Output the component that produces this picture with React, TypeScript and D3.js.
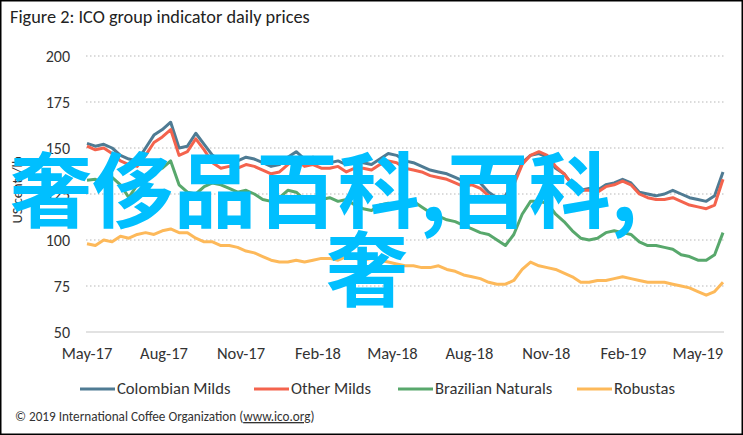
import React from "react";
import * as d3 from "d3";

const W = 743;
const H = 435;

const START = new Date(2017, 4, 1);
const END = new Date(2019, 4, 31);
const STEP_DAYS = 10;

const colombianMilds = [152.5, 151, 152, 150, 146, 144, 143, 150, 157, 160, 164, 150, 151, 158, 152, 146, 143, 144, 143, 145, 144, 142, 140, 141, 145, 148, 144, 145, 143, 142, 143, 141, 143, 142, 141, 144, 147, 146, 143, 142, 140, 138, 137, 136, 134, 132, 133, 131, 126, 123, 124, 132, 142, 146, 147, 145, 139, 136, 130, 127, 128, 127, 130, 131, 133, 131, 126, 125, 124, 125, 127, 125, 123, 122, 121, 124, 137];
const otherMilds = [151, 149, 150, 147, 143, 141, 140, 146, 153, 156, 160, 146, 148, 155, 149, 142, 139, 140, 139, 141, 140, 138, 136, 137, 141, 144, 140, 141, 139, 139, 140, 137, 139, 139, 138, 141, 143, 142, 139, 138, 137, 135, 134, 133, 131, 129, 130, 128, 124, 121, 122, 130, 141, 146, 148, 146, 140, 136, 130, 127, 127, 126, 129, 130, 132, 130, 125, 123, 122, 122, 123, 121, 119, 118, 117, 119, 133];
const brazilianNaturals = [132.5, 133, 131, 134, 130, 123, 130, 134, 137, 139, 143, 130, 126, 125, 129, 131, 130, 128, 126, 127, 125, 122, 121, 123, 127, 126, 122, 123, 122, 123, 121, 122, 119, 117, 116, 119, 120, 119, 120, 121, 118, 115, 113, 111, 110, 108, 106, 104, 103, 100, 97, 103, 114, 121, 121, 120, 114, 110, 105, 101, 100, 101, 104, 105, 104, 103, 99, 97, 97, 96, 95, 92, 91, 89, 89, 92, 104];
const robustas = [98, 97, 100, 99, 102, 101, 103, 104, 103, 105, 106, 104, 104, 101, 99, 99, 97, 97, 96, 94, 93, 91, 89, 88, 88, 89, 88, 89, 90, 90, 89, 91, 90, 89, 90, 89, 88, 87, 86, 86, 85, 85, 86, 84, 83, 81, 80, 79, 77, 76, 76, 78, 84, 88, 86, 85, 84, 82, 80, 77, 77, 78, 78, 79, 80, 79, 78, 77, 77, 77, 76, 75, 74, 72, 70, 72, 77];

const seriesNames = ["Colombian Milds", "Other Milds", "Brazilian Naturals", "Robustas"];
const seriesColors = ["#4F7B93", "#F4634D", "#58A86C", "#FDB95A"];
const seriesValues = [colombianMilds, otherMilds, brazilianNaturals, robustas];

const yTicks = [50, 75, 100, 125, 150, 175, 200];
const xTickDates = [
  new Date(2017, 4, 1), new Date(2017, 7, 1), new Date(2017, 10, 1),
  new Date(2018, 1, 1), new Date(2018, 4, 1), new Date(2018, 7, 1),
  new Date(2018, 10, 1), new Date(2019, 1, 1), new Date(2019, 4, 1),
];

const titleText = "Figure 2: ICO group indicator daily prices";
const yAxisLabel = "US cents/lb";
const watermarkLine1 = "奢侈品百科,百科,";
const watermarkLine2 = "奢";

const FONT = "Carlito, Lato, 'Open Sans', sans-serif";

export default function App() {
  const x = d3.scaleTime().domain([START, END]).range([87, 723]);
  const y = d3.scaleLinear().domain([50, 200]).range([332, 56]);
  const fmt = d3.timeFormat("%b-%y");
  const dates = colombianMilds.map((_, i) => d3.timeDay.offset(START, i * STEP_DAYS));
  const line = d3
    .line<number>()
    .x((_, i) => x(dates[i]))
    .y((d) => y(d))
    .curve(d3.curveLinear);

  const legendX = [80, 254, 398, 577];

  return (
    <svg
      width={W}
      height={H}
      style={{ position: "absolute", left: 0, top: 0, background: "#fff" }}
      fontFamily={FONT}
    >
      <rect x={0} y={0} width={W} height={H} fill="#fff" />
      <rect x={0.75} y={0.75} width={W - 1.5} height={H - 1.5} fill="none" stroke="#000" strokeWidth={1.5} />
      <text x={10} y={23} fontSize={18.3} fill="#222">{titleText}</text>

      {yTicks.map((t) => (
        <g key={t}>
          {t === 50 ? (
            <line x1={86} x2={724} y1={y(t)} y2={y(t)} stroke="#d9d9d9" strokeWidth={1.5} />
          ) : (
            <line x1={86} x2={724} y1={y(t)} y2={y(t)} stroke="#cfcfcf" strokeWidth={1.3} strokeDasharray="1.5,2.5" />
          )}
          <text x={70} y={y(t)} dy="0.35em" textAnchor="end" fontSize={16} fill="#333">{t}</text>
        </g>
      ))}

      {xTickDates.map((d, i) => (
        <text key={i} x={x(d)} y={359} textAnchor="middle" fontSize={16.5} fill="#333">{fmt(d)}</text>
      ))}

      <text transform="translate(22,190) rotate(-90)" textAnchor="middle" fontSize={14.5} fill="#333">{yAxisLabel}</text>

      {seriesValues.map((vals, k) => (
        <path key={k} d={line(vals) || ""} fill="none" stroke={seriesColors[k]} strokeWidth={3} strokeLinejoin="round" />
      ))}

      {seriesNames.map((n, k) => (
        <g key={n}>
          <line x1={legendX[k]} x2={legendX[k] + 35} y1={389} y2={389} stroke={seriesColors[k]} strokeWidth={3} />
          <text x={legendX[k] + 37} y={394} fontSize={16.6} fill="#333">{n}</text>
        </g>
      ))}

      <text x={15} y={421} fontSize={13.2} fill="#333">
        © 2019 International Coffee Organization (<tspan textDecoration="underline">www.ico.org</tspan>)
      </text>

      <g fontFamily="'Noto Sans CJK SC', sans-serif" fontWeight={700} fill="#00BFFF" fontSize={82}>
        <text x={10} y={221}>{watermarkLine1}</text>
        <text x={326} y={300}>{watermarkLine2}</text>
      </g>
    </svg>
  );
}
